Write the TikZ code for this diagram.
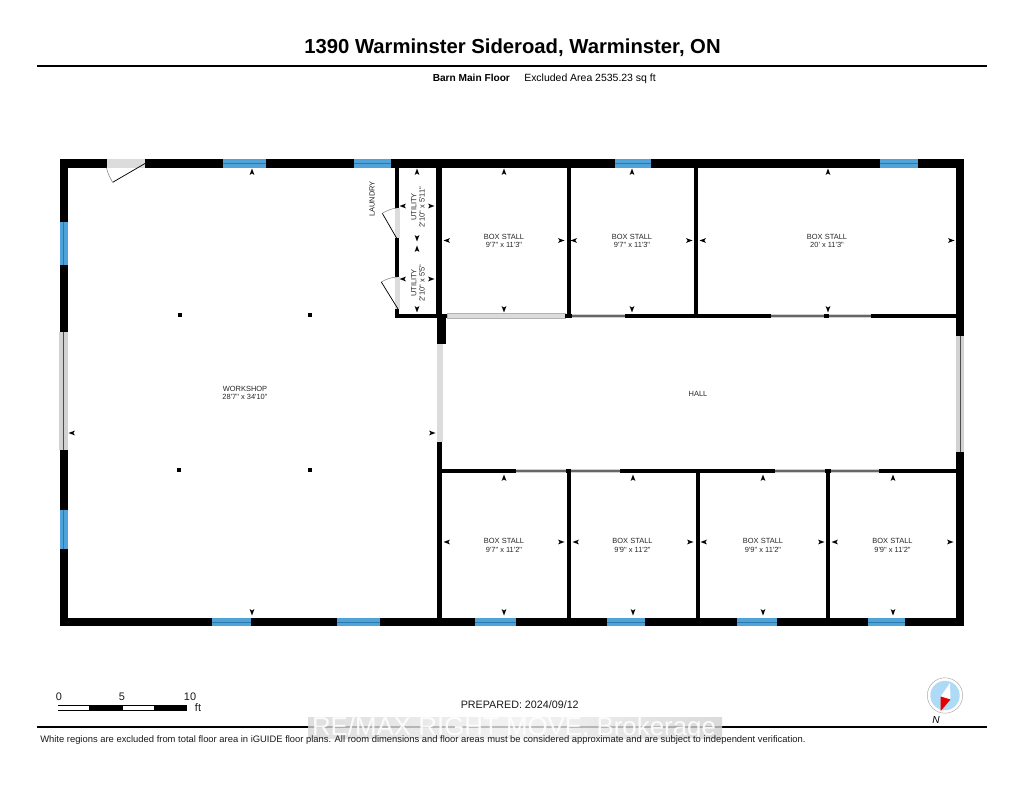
\documentclass[tikz,border=0pt]{standalone}
\usepackage{fontspec}
\newfontfamily\plainsans{Liberation Sans}
\newcommand{\fsz}[1]{\fontsize{#1}{#1}\selectfont}
\definecolor{winblue}{HTML}{4FA3D8}
\definecolor{winline}{HTML}{2A78AC}
\definecolor{doorgray}{HTML}{DCDCDC}
\definecolor{slidegray}{HTML}{D2D2D2}
\definecolor{compassblue}{HTML}{AFDAF5}
\tikzset{
  wall/.style={fill=black,draw=none},
  lab/.style={inner sep=0pt,font=\plainsans\fsz{5.6},text=black!85,align=center},
  swing/.style={draw=black,line width=0.55pt},
  swingarc/.style={draw=black!50,line width=0.4pt},
  rulebar/.style={draw=black,line width=1.4pt},
  head/.style={fill=black,draw=none},
  small/.style={inner sep=0pt,font=\plainsans\fsz{6.9},text=black!90}
}
% horizontal window x1 x2 y1 y2
\newcommand{\hwin}[4]{\fill[winblue] (#1,#3) rectangle (#2,#4);
  \draw[winline,line width=0.5pt] (#1,{(#3+#4)/2}) -- (#2,{(#3+#4)/2});}
\newcommand{\vwin}[4]{\fill[winblue] (#1,#3) rectangle (#2,#4);
  \draw[winline,line width=0.5pt] ({(#1+#2)/2},#3) -- ({(#1+#2)/2},#4);}
\newcommand{\hslide}[3]{\fill[slidegray] (#1,#3-2.4) rectangle (#2,#3+2.4);
  \draw[black!60,line width=0.9pt] (#1,#3) -- (#2,#3);}
\newcommand{\vslide}[3]{\fill[slidegray] (#3-4.3,#1) rectangle (#3+4.3,#2);
  \draw[black!70,line width=0.6pt] (#3,#1) -- (#3,#2);}
\begin{document}
\begin{tikzpicture}[x=0.75pt,y=-0.75pt,font=\plainsans]
\useasboundingbox (0,0) rectangle (1024,791);
% heading
\node[inner sep=0pt,anchor=base,font=\plainsans\bfseries\fsz{15.2}] (title) at (512.5,54) {1390 Warminster Sideroad, Warminster, ON};
\draw[rulebar] (37,66) -- (987,66);
\node[inner sep=0pt,anchor=base west,font=\plainsans\bfseries\fsz{7.6}] (floor) at (432.5,82) {Barn Main Floor};
\node[inner sep=0pt,anchor=base west,font=\plainsans\fsz{7.85}] (excl) at (524,82) {Excluded Area 2535.23 sq ft};
% outer walls
\fill[wall] (60,159.5) rectangle (964,167.7);
\fill[wall] (60,618) rectangle (964,626);
\fill[wall] (60,159.5) rectangle (67.6,626);
\fill[wall] (956,159.5) rectangle (964,626);
% openings in outer walls
\hwin{223}{266}{159.5}{167.7} \hwin{354}{391}{159.5}{167.7} \hwin{615}{651}{159.5}{167.7} \hwin{880}{918}{159.5}{167.7}
\hwin{212}{251}{618}{626} \hwin{337}{380}{618}{626} \hwin{475}{516}{618}{626} \hwin{607}{645}{618}{626} \hwin{737}{777}{618}{626} \hwin{868}{905}{618}{626}
\vwin{60}{67.6}{222}{265} \vwin{60}{67.6}{510}{549}
\vslide{332}{450}{63.7}
\vslide{336}{452}{960}
% entry door
\fill[doorgray] (106.5,159.5) rectangle (145,167.7);
\draw[swing] (145,163.5) -- (112.7,182.3);
\draw[swingarc] (106.5,167.7) .. controls (107.5,173) and (110,178) .. (112.7,182.3);
% interior walls upper row
\fill[wall] (436.2,167) rectangle (441.8,316);
\fill[wall] (567,167) rectangle (571,316);
\fill[wall] (694,167) rectangle (697.5,316);
% utility partition
\fill[wall] (395,167) rectangle (399,208);
\fill[doorgray] (395,208) rectangle (399.5,238);
\fill[wall] (395,238) rectangle (399,277);
\fill[doorgray] (395,277) rectangle (399.5,309);
\fill[wall] (394.5,309) rectangle (399,318);
\draw[swing] (396.7,238.3) -- (382.3,213.3);
\draw[swingarc] (382.3,213.3) .. controls (387,210.5) and (392,208.5) .. (397,208);
\draw[swing] (398,309) -- (381.3,282);
\draw[swingarc] (381.3,282) .. controls (386,279) and (392,277.3) .. (397,277);
% upper horizontal wall
\fill[wall] (394.5,313.7) rectangle (447,318);
\fill[doorgray] (447,313.7) rectangle (565,318.3);
\draw[black!30,line width=0.3pt] (447,313.7) rectangle (565,318.3);
\fill[wall] (565,313.7) rectangle (572,318);
\hslide{572}{625}{316}
\fill[wall] (625,313.7) rectangle (771,318);
\hslide{771}{824}{316}
\fill[wall] (824,313.7) rectangle (828.5,318);
\hslide{828.5}{870.5}{316}
\fill[wall] (870.5,313.7) rectangle (956,318);
% wall between workshop and hall
\fill[wall] (437,316) rectangle (446,344);
\fill[doorgray] (437,344) rectangle (442.5,442);
\fill[wall] (437,442) rectangle (442,618);
% lower horizontal wall
\fill[wall] (442,468.7) rectangle (515.5,473);
\hslide{515.5}{565.5}{471}
\fill[wall] (565.5,468.7) rectangle (571,473);
\hslide{571}{620}{471}
\fill[wall] (620,468.7) rectangle (775,473);
\hslide{775}{825}{471}
\fill[wall] (825,468.7) rectangle (830.5,473);
\hslide{830.5}{879}{471}
\fill[wall] (879,468.7) rectangle (956,473);
% lower vertical walls
\fill[wall] (567,471) rectangle (571,618);
\fill[wall] (696,471) rectangle (699.5,618);
\fill[wall] (826,471) rectangle (830,618);
% columns
\foreach \cx/\cy in {180/315,310/315,179/470,310/470}
  \fill[wall] (\cx-2,\cy-2) rectangle (\cx+2,\cy+2);
% dimension arrowheads
\foreach \ax/\ay in {252/172,504/172,632/172,828/172,417/172,417/249,504/478,633/478,763/478,893/478}
  \fill[head,shift={(\ax,\ay)}] (0,-3.5) -- (2.4,3) -- (0,1.4) -- (-2.4,3) -- cycle;
\foreach \ax/\ay in {252/612,504/309,632/309,828/309,417/238,417/309,504/612,633/612,763/612,893/612}
  \fill[head,shift={(\ax,\ay)}] (0,3.5) -- (2.4,-3) -- (0,-1.4) -- (-2.4,-3) -- cycle;
\foreach \ax/\ay in {72/433,447/240.5,574/240.5,703/240.5,403/206,403/279,447/542,576/542,704/542,835/542}
  \fill[head,shift={(\ax,\ay)}] (-3.5,0) -- (3,2.4) -- (1.4,0) -- (3,-2.4) -- cycle;
\foreach \ax/\ay in {432/433,561/240.5,689/240.5,951/240.5,431/206,431/279,561/542,690/542,821/542,950/542}
  \fill[head,shift={(\ax,\ay)}] (3.5,0) -- (-3,2.4) -- (-1.4,0) -- (-3,-2.4) -- cycle;
% room labels
\node[lab] (workshop) at (245,393) {WORKSHOP\\[0.6pt]28'7" x 34'10"};
\node[lab] (hall) at (698,393.5) {HALL};
\node[lab] (s1) at (504,241) {BOX STALL\\[0.6pt]9'7" x 11'3"};
\node[lab] (s2) at (632,241) {BOX STALL\\[0.6pt]9'7" x 11'3"};
\node[lab] (s3) at (827,241) {BOX STALL\\[0.6pt]20' x 11'3"};
\node[lab] (s4) at (504,545.5) {BOX STALL\\[0.6pt]9'7" x 11'2"};
\node[lab] (s5) at (632.5,545.5) {BOX STALL\\[0.6pt]9'9" x 11'2"};
\node[lab] (s6) at (763,545.5) {BOX STALL\\[0.6pt]9'9" x 11'2"};
\node[lab] (s7) at (892.5,545.5) {BOX STALL\\[0.6pt]9'9" x 11'2"};
\node[lab,rotate=90] (u1) at (418,207) {UTILITY\\[0.6pt]2'10" x 5'11"};
\node[lab,rotate=90] (u2) at (418,283) {UTILITY\\[0.6pt]2'10" x 5'5"};
\node[lab,rotate=90] (laundry) at (372,199) {LAUNDRY};
% scale bar
\fill[black] (57.5,705) rectangle (187,710.5);
\fill[white] (58.2,705.7) rectangle (89,709.8);
\fill[white] (122.5,705.7) rectangle (154,709.8);
\node[small,font=\plainsans\fsz{8.2}] (sc0) at (59,697) {0};
\node[small,font=\plainsans\fsz{8.2}] (sc5) at (122,697) {5};
\node[small,font=\plainsans\fsz{8.2}] (sc10) at (190,697) {10};
\node[small,font=\plainsans\fsz{8.2}] (scft) at (198,708) {ft};
\node[inner sep=0pt,anchor=base west,font=\plainsans\fsz{8.05},text=black!90] (prep) at (460.5,708.5) {PREPARED: 2024/09/12};
% compass
\draw[black!35,line width=0.35pt] (945,695.5) circle (17.7);
\fill[compassblue] (945,695.5) circle (14.7);
\fill[white] (950,683) -- (950.5,699.5) -- (940.7,696.5) -- cycle;
\fill[red!90!black] (940.7,696.5) -- (950.5,699.5) -- (940.7,711) -- cycle;
\node[inner sep=0pt,font=\plainsans\itshape\fsz{7.6}] (north) at (936,720) {N};
% bottom rule and watermark
\draw[rulebar] (37,726.7) -- (987,726.7);
\shade[left color=black!16,right color=black!6,opacity=0.8] (308,717.5) rectangle (520,738);
\shade[left color=black!6,right color=black!18,opacity=0.8] (520,717.5) rectangle (722,738);
\node[inner sep=0pt,anchor=base,font=\plainsans\fsz{19.4},text=white,opacity=0.9] (mark) at (514,735.5) {RE/MAX RIGHT MOVE, Brokerage};
\node[inner sep=0pt,anchor=base west,font=\plainsans\fsz{7.05},text=black!90] (note) at (40,742.5) {White regions are excluded from total floor area in iGUIDE floor plans. All room dimensions and floor areas must be considered approximate and are subject to independent verification.};
\end{tikzpicture}
\end{document}
